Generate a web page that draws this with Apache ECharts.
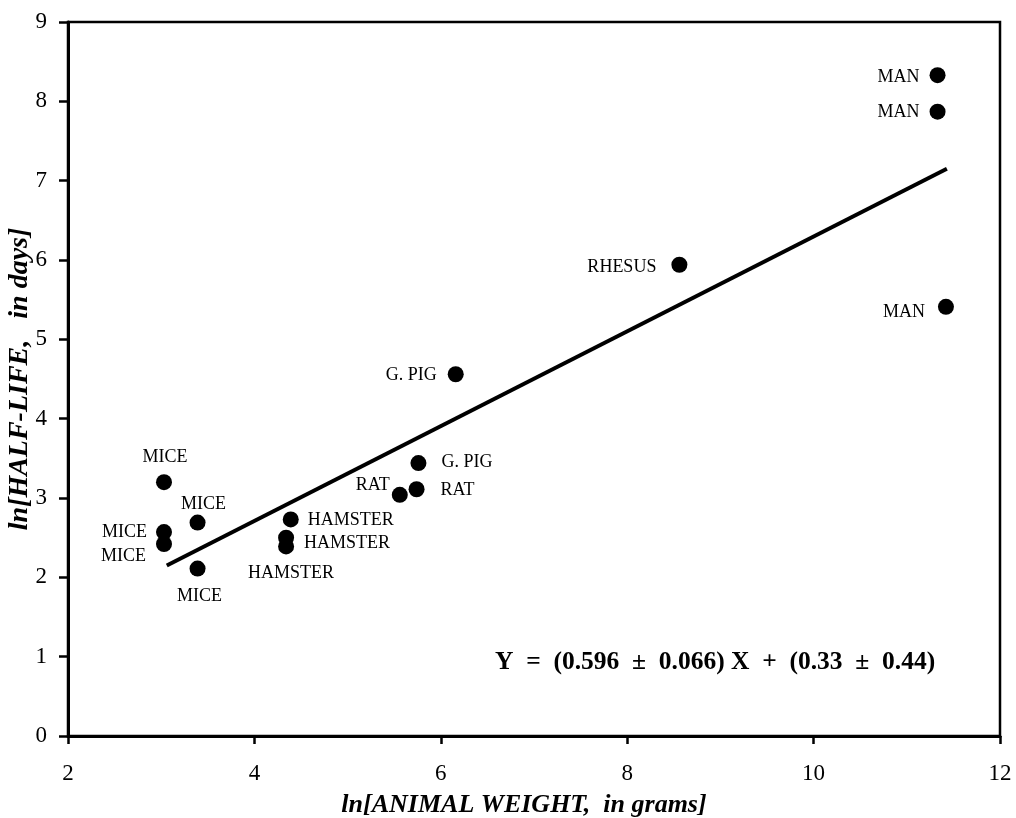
<!DOCTYPE html>
<html>
<head>
<meta charset="utf-8">
<script src="https://cdn.jsdelivr.net/npm/echarts@6/dist/echarts.min.js"></script>
<style>
  html, body { margin: 0; background: #fff; }
  #chart { width: 1016px; height: 818px; }
</style>
</head>
<body>
<div id="chart"></div>
<script>
// data
var animals = ['MICE', 'MICE', 'MICE', 'MICE', 'MICE', 'HAMSTER', 'HAMSTER', 'HAMSTER',
    'RAT', 'RAT', 'G. PIG', 'G. PIG', 'RHESUS', 'MAN', 'MAN', 'MAN'];
var lnWeight = [3.03, 3.39, 3.03, 3.03, 3.39, 4.39, 4.34, 4.34,
    5.56, 5.74, 5.76, 6.16, 8.56, 11.33, 11.33, 11.42];
var lnHalfLife = [3.20, 2.69, 2.57, 2.42, 2.11, 2.73, 2.50, 2.39,
    3.04, 3.11, 3.44, 4.56, 5.94, 8.33, 7.87, 5.41];
var fitX = [3.06, 11.43];
var fitY = [2.15, 7.15];
var equation = 'Y  =  (0.596  \u00b1  0.066) X  +  (0.33  \u00b1  0.44)';

// label placement per point: [position, distance, dx, dy]
var labelPlace = [
    ['top', 8, 1, 0], ['top', 3, 6, 2], ['left', 9, 0, 0], ['left', 10, 0, 12],
    ['bottom', 11, 2, 0], ['right', 9, 0, 1], ['right', 10, 0, 6], ['bottom', 10, 5, 0],
    ['left', 2, 0, -10], ['right', 16, 0, 1], ['right', 15, 0, -1], ['left', 11, 0, 1],
    ['left', 15, 0, 3], ['left', 10, 0, 2], ['left', 10, 0, 1], ['left', 13, 0, 5]
];

var serif = '"Liberation Serif", "Times New Roman", serif';

var points = lnWeight.map(function (x, i) {
    var p = labelPlace[i];
    return {
        value: [x, lnHalfLife[i]],
        name: animals[i],
        label: {
            position: p[0],
            distance: p[1],
            offset: [p[2], p[3]]
        }
    };
});

var chart = echarts.init(document.getElementById('chart'));
var option = {
    animation: false,
    backgroundColor: '#fff',
    grid: {
        left: 68,
        right: 16,
        top: 22,
        bottom: 82,
        outerBoundsMode: 'none',
        containLabel: false,
        show: true,
        borderColor: '#000',
        borderWidth: 2.5,
        backgroundColor: 'transparent'
    },
    xAxis: {
        type: 'value',
        min: 2,
        max: 12,
        interval: 2,
        name: 'ln[ANIMAL WEIGHT,  in grams]',
        nameLocation: 'middle',
        nameGap: 56,
        nameTextStyle: {
            fontFamily: serif,
            fontSize: 26,
            fontWeight: 'bold',
            fontStyle: 'italic',
            color: '#000',
            padding: [0, 20, 0, 0]
        },
        axisLine: { show: true, lineStyle: { color: '#000', width: 3 } },
        axisTick: { show: true, inside: false, length: 8, lineStyle: { color: '#000', width: 2.5 } },
        axisLabel: { margin: 26, fontFamily: serif, fontSize: 23, color: '#000' },
        splitLine: { show: false }
    },
    yAxis: {
        type: 'value',
        min: 0,
        max: 9,
        interval: 1,
        name: 'ln[HALF-LIFE,   in days]',
        nameLocation: 'middle',
        nameRotate: 90,
        nameGap: 34,
        nameMoveOverlap: false,
        nameTextStyle: {
            fontFamily: serif,
            fontSize: 28,
            fontWeight: 'bold',
            fontStyle: 'italic',
            color: '#000'
        },
        axisLine: { show: true, lineStyle: { color: '#000', width: 3 } },
        axisTick: { show: true, inside: false, length: 9, lineStyle: { color: '#000', width: 2.5 } },
        axisLabel: { margin: 21, fontFamily: serif, fontSize: 23, color: '#000' },
        splitLine: { show: false }
    },
    series: [{
        type: 'line',
        data: fitX.map(function (x, i) { return [x, fitY[i]]; }),
        symbol: 'none',
        lineStyle: { color: '#000', width: 4 },
        silent: true,
        z: 2
    }, {
        type: 'scatter',
        data: points,
        symbol: 'circle',
        symbolSize: 16,
        itemStyle: { color: '#000', opacity: 1 },
        label: {
            show: true,
            formatter: '{b}',
            fontFamily: serif,
            fontSize: 18,
            color: '#000'
        },
        z: 3
    }],
    graphic: [{
        type: 'text',
        left: 495,
        top: 649,
        style: {
            text: equation,
            fontFamily: serif,
            fontSize: 25.5,
            fontWeight: 'bold',
            fill: '#000'
        }
    }]
};
chart.setOption(option);
</script>
</body>
</html>
